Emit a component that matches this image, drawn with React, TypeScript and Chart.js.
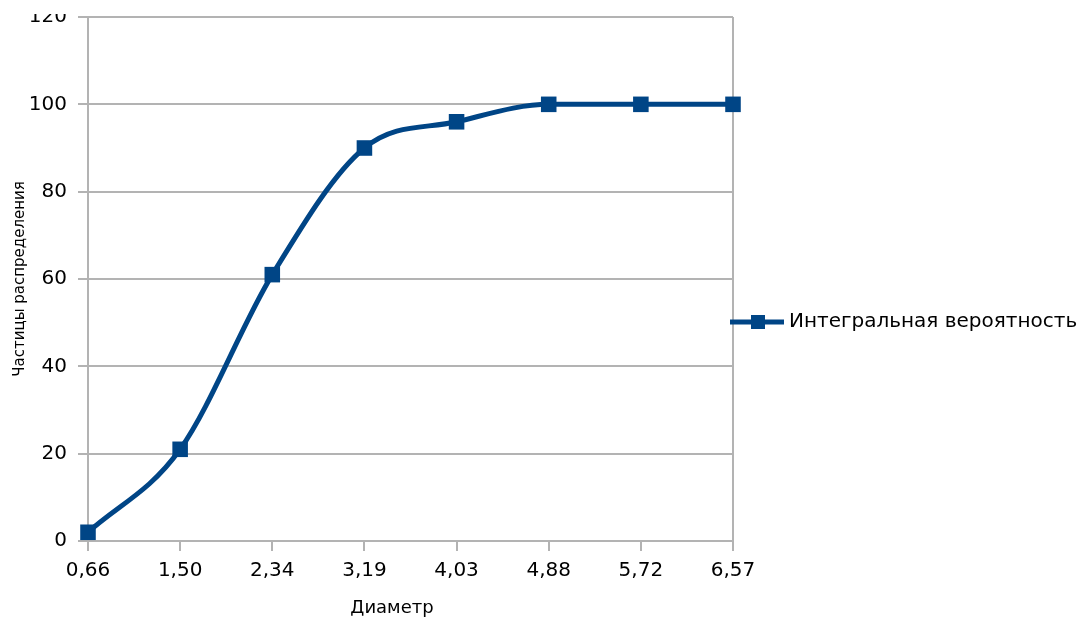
import React, { useEffect, useRef } from "react";
import { Chart, registerables } from "chart.js";

Chart.register(...registerables);

const categories = ["0,66", "1,50", "2,34", "3,19", "4,03", "4,88", "5,72", "6,57"];
const values = [2, 21, 61, 90, 96, 100, 100, 100];
const yMin = 0;
const yMax = 120;
const yStep = 20;
const seriesName = "Интегральная вероятность";
const xTitle = "Диаметр";
const yTitle = "Частицы распределения";

const LINE_COLOR = "#004586";
const GRID_COLOR = "#b3b3b3";
const FONT = "'DejaVu Sans', sans-serif";

const overlayPlugin = {
  id: "overlay",
  afterDraw(chart: any) {
    const ctx = chart.ctx;
    const area = chart.chartArea;
    ctx.save();
    // clipped top of the picture
    ctx.fillStyle = "#ffffff";
    ctx.fillRect(0, 0, area.left - 2, 14);
    // x axis title
    ctx.fillStyle = "#000";
    ctx.font = "18px " + FONT;
    ctx.textAlign = "center";
    ctx.textBaseline = "middle";
    ctx.fillText(xTitle, 392, 608);
    // legend
    const ly = 322;
    ctx.strokeStyle = LINE_COLOR;
    ctx.lineWidth = 5;
    ctx.beginPath();
    ctx.moveTo(730, ly);
    ctx.lineTo(784, ly);
    ctx.stroke();
    ctx.fillStyle = LINE_COLOR;
    ctx.fillRect(751, ly - 7, 14, 14);
    ctx.fillStyle = "#000";
    ctx.font = "20px " + FONT;
    ctx.textAlign = "left";
    ctx.fillText(seriesName, 789, ly);
    ctx.restore();
  },
};

export default function App() {
  const ref = useRef<HTMLCanvasElement | null>(null);

  useEffect(() => {
    if (!ref.current) return;
    const chart = new Chart(ref.current, {
      type: "line",
      data: {
        labels: categories,
        datasets: [
          {
            label: seriesName,
            data: values,
            borderColor: LINE_COLOR,
            backgroundColor: LINE_COLOR,
            borderWidth: 5,
            cubicInterpolationMode: "monotone",
            pointStyle: "rect",
            pointRadius: 11,
            pointBorderWidth: 0,
            pointBackgroundColor: LINE_COLOR,
            clip: false as any,
          },
        ],
      },
      options: {
        animation: false,
        responsive: false,
        maintainAspectRatio: false,
        layout: { autoPadding: false, padding: { top: 17, right: 346, bottom: 0, left: 0 } },
        plugins: {
          legend: { display: false },
          tooltip: { enabled: false },
        },
        scales: {
          x: {
            type: "category",
            offset: false,
            grid: {
              display: true,
              drawOnChartArea: true,
              color: (c: any) => (c.index === categories.length - 1 ? GRID_COLOR : "rgba(0,0,0,0)"),
              tickColor: GRID_COLOR,
              tickLength: 10,
              lineWidth: 2,
            },
            border: { display: true, color: GRID_COLOR, width: 2 },
            ticks: {
              color: "#000",
              font: { family: FONT, size: 20 },
              padding: 8,
              maxRotation: 0,
              autoSkip: false,
            },
            afterFit: (s: any) => {
              s.height = 78;
              s.paddingLeft = 0;
              s.paddingRight = 0;
            },
          },
          y: {
            type: "linear",
            min: yMin,
            max: yMax,
            ticks: {
              stepSize: yStep,
              color: "#000",
              font: { family: FONT, size: 20 },
              padding: 11,
            },
            grid: {
              color: GRID_COLOR,
              tickColor: GRID_COLOR,
              tickLength: 10,
              lineWidth: 2,
            },
            border: { display: true, color: GRID_COLOR, width: 2 },
            title: {
              display: true,
              text: yTitle,
              color: "#000",
              font: { family: FONT, size: 15 },
              padding: { top: 11, bottom: 0 },
            },
            afterFit: (s: any) => {
              s.width = 88;
              s.paddingTop = 0;
              s.paddingBottom = 0;
            },
          },
        },
      },
      plugins: [overlayPlugin],
    });
    return () => chart.destroy();
  }, []);

  return (
    <div style={{ position: "fixed", left: 0, top: 0, width: 1079, height: 619, background: "#fff" }}>
      <canvas ref={ref} width={1079} height={619} style={{ width: 1079, height: 619, display: "block" }} />
    </div>
  );
}
